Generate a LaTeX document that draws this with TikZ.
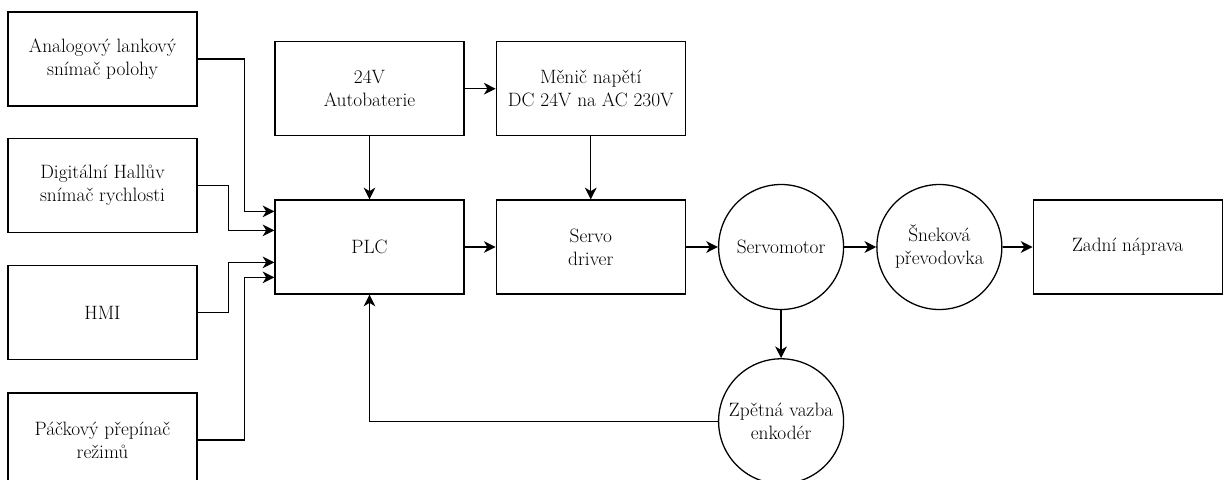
\documentclass[tikz,border=0pt]{standalone}
\usepackage{fontspec}
\usetikzlibrary{arrows.meta, positioning, calc}

\begin{document}
\begin{tikzpicture}[
    node distance=0.93cm and 0.93cm,
    block/.style={
        rectangle,
        draw,
        line width=1.1pt,
        align=center,
        minimum width=5.67cm,
        minimum height=2.82cm,
        font=\rmfamily\fontsize{16.5}{19.6}\selectfont
    },
    unit/.style={
        circle,
        draw,
        line width=1.1pt,
        align=center,
        minimum size=3.75cm,
        inner sep=0pt,
        font=\rmfamily\fontsize{16.5}{19.6}\selectfont
    },
    line/.style={
        draw,
        line width=1.1pt,
        -{Stealth[length=10pt,width=10pt,inset=3pt]}
    }
]
    \useasboundingbox (0,0) rectangle (36.72,-14.37);
    \clip (0,0) rectangle (36.72,-14.37);

    % --- Nodes ---

    % Sensors and inputs
    \node [block] (snimac) at (3.075,-1.77) {Analogový lankový\\snímač polohy};
    \node [block, below=of snimac] (hall) {Digitální Hallův\\snímač rychlosti};
    \node [block, below=0.96cm of hall] (hmi) {HMI};
    \node [block, below=0.96cm of hmi] (prepinac) {Páčkový přepínač\\režimů};

    % Control and power
    \node [block] (plc) at (11.085,-7.41) {PLC};
    \node [block, above=1.89cm of plc] (baterie) {24V\\Autobaterie};
    \node [block, right=of baterie] (menic) {Měnič napětí\\DC 24V na AC 230V};
    \node [block, right=of plc] (driver) {Servo\\driver};

    % Drive train
    \node [unit, right=0.96cm of driver] (motor) {Servomotor};
    \node [unit, right=0.96cm of motor] (prevodovka) {Šneková\\převodovka};
    \node [block, right=0.9cm of prevodovka] (naprava) {Zadní náprava};
    \node [unit, below=1.44cm of motor] (enkoder) {Zpětná vazba\\enkodér};

    % --- Connections ---

    % Inputs to PLC
    \draw [line] (snimac.east) -- ++(1.41,0) |- ($(plc.north west)+(0,-0.36)$);
    \draw [line] (hall.east) -- ++(0.93,0) |- ($(plc.north west)+(0,-0.93)$);
    \draw [line] (hmi.east) -- ++(0.93,0) |- ($(plc.north west)+(0,-1.89)$);
    \draw [line] (prepinac.east) -- ++(1.41,0) |- ($(plc.north west)+(0,-2.34)$);

    % Power path
    \draw [line] (baterie) -- (plc);
    \draw [line] (baterie) -- (menic);
    \draw [line] (menic) -- (driver);

    % Forward path
    \draw [line] (plc) -- (driver);
    \draw [line] (driver) -- (motor);
    \draw [line] (motor) -- (prevodovka);
    \draw [line] (prevodovka) -- (naprava);

    % Feedback loop
    \draw [line] (motor) -- (enkoder);
    \draw [line] (enkoder.west) -| (plc.south);

\end{tikzpicture}
\end{document}
